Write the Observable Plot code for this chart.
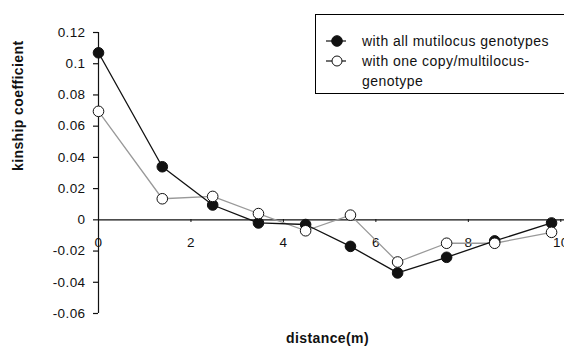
<!DOCTYPE html>
<html>
<head>
<meta charset="utf-8">
<script src="https://cdn.jsdelivr.net/npm/d3@7"></script>
<script src="https://cdn.jsdelivr.net/npm/@observablehq/plot@0.6"></script>
<style>
  html, body { margin: 0; padding: 0; background: #fff; }
  #wrap { position: relative; width: 564px; height: 349px; overflow: hidden; font-family: "Liberation Sans", Arial, sans-serif; }
  #legend {
    position: absolute; left: 315px; top: 14px; width: 260px; height: 80px;
    box-sizing: border-box; border: 1px solid #000; background: #fff;
    font-size: 14px; letter-spacing: 0.45px; color: #111;
  }
  .row { position: absolute; left: 8px; display: flex; align-items: flex-start; line-height: 20px; }
  .row svg { flex: none; margin-right: 14px; margin-top: 0px; }
</style>
</head>
<body>
<div id="wrap">
  <div id="chart"></div>
  <div id="legend"></div>
</div>
<script>
// distance classes (m)
const distance = [0, 1.38, 2.47, 3.46, 4.48, 5.45, 6.47, 7.53, 8.57, 9.8];
// kinship coefficient, all multilocus genotypes
const allGenotypes = [0.107, 0.034, 0.0095, -0.002, -0.003, -0.017, -0.034, -0.024, -0.0135, -0.002];
// kinship coefficient, one copy per multilocus genotype
const oneCopy = [0.0695, 0.0135, 0.015, 0.004, -0.007, 0.003, -0.027, -0.015, -0.015, -0.008];

const xTicks = [0, 2, 4, 6, 8, 10];
const yTicks = [-0.06, -0.04, -0.02, 0, 0.02, 0.04, 0.06, 0.08, 0.1, 0.12];

const seriesNames = ["with all mutilocus genotypes", "with one copy/multilocus-\ngenotype"];

const dataAll = distance.map((d, i) => ({distance: d, k: allGenotypes[i]}));
const dataOne = distance.map((d, i) => ({distance: d, k: oneCopy[i]}));

const fmt = d => String(+d.toFixed(2));

const chart = Plot.plot({
  width: 564,
  height: 349,
  marginLeft: 98,
  marginRight: 0,
  marginTop: 32,
  marginBottom: 36,
  style: {fontFamily: '"Liberation Sans", Arial, sans-serif', fontSize: "13.5px", letterSpacing: "0.4px", color: "#111", background: "#fff"},
  x: {domain: [0, 10.08]},
  y: {domain: [-0.06, 0.12]},
  marks: [
    Plot.ruleX([0], {stroke: "#111", strokeWidth: 1.2}),
    Plot.ruleY([0], {stroke: "#111", strokeWidth: 1.2}),
    Plot.axisY({ticks: yTicks, tickFormat: fmt, tickSize: 5, tickPadding: 8, label: null, stroke: "#111", strokeWidth: 1.2}),
    Plot.axisX({ticks: xTicks, tickFormat: fmt, tickSize: 3, tickPadding: 15, label: null, dy: -94, stroke: "#111"}),
    Plot.text(["distance(m)"], {frameAnchor: "bottom", dy: 29, dx: -4, fontWeight: "bold", fontSize: 14, fill: "#111"}),
    Plot.text(["kinship coefficient"], {frameAnchor: "left", rotate: -90, dx: -80, dy: -2, fontWeight: "bold", fontSize: 14, fill: "#111"}),
    Plot.line(dataOne, {x: "distance", y: "k", stroke: "#999", strokeWidth: 1.3}),
    Plot.line(dataAll, {x: "distance", y: "k", stroke: "#111", strokeWidth: 1.3}),
    Plot.dot(dataAll, {x: "distance", y: "k", r: 5.3, fill: "#111", stroke: "#111", strokeWidth: 1}),
    Plot.dot(dataOne, {x: "distance", y: "k", r: 5.3, fill: "#fff", stroke: "#111", strokeWidth: 1})
  ]
});
document.getElementById("chart").appendChild(chart);

// legend
const legend = document.getElementById("legend");
const markers = [{fill: "#111"}, {fill: "#fff"}];
seriesNames.forEach((name, i) => {
  const row = document.createElement("div");
  row.className = "row";
  row.style.top = (i === 0 ? 16 : 36) + "px";
  row.innerHTML =
    `<svg width="24" height="20"><line x1="2" x2="22" y1="10" y2="10" stroke="#111" stroke-width="1.2"/>` +
    `<circle cx="13" cy="10" r="${i === 0 ? 5.3 : 5}" fill="${markers[i].fill}" stroke="#111" stroke-width="1"/></svg>` +
    `<span style="white-space:pre">${name}</span>`;
  legend.appendChild(row);
});
</script>
</body>
</html>
